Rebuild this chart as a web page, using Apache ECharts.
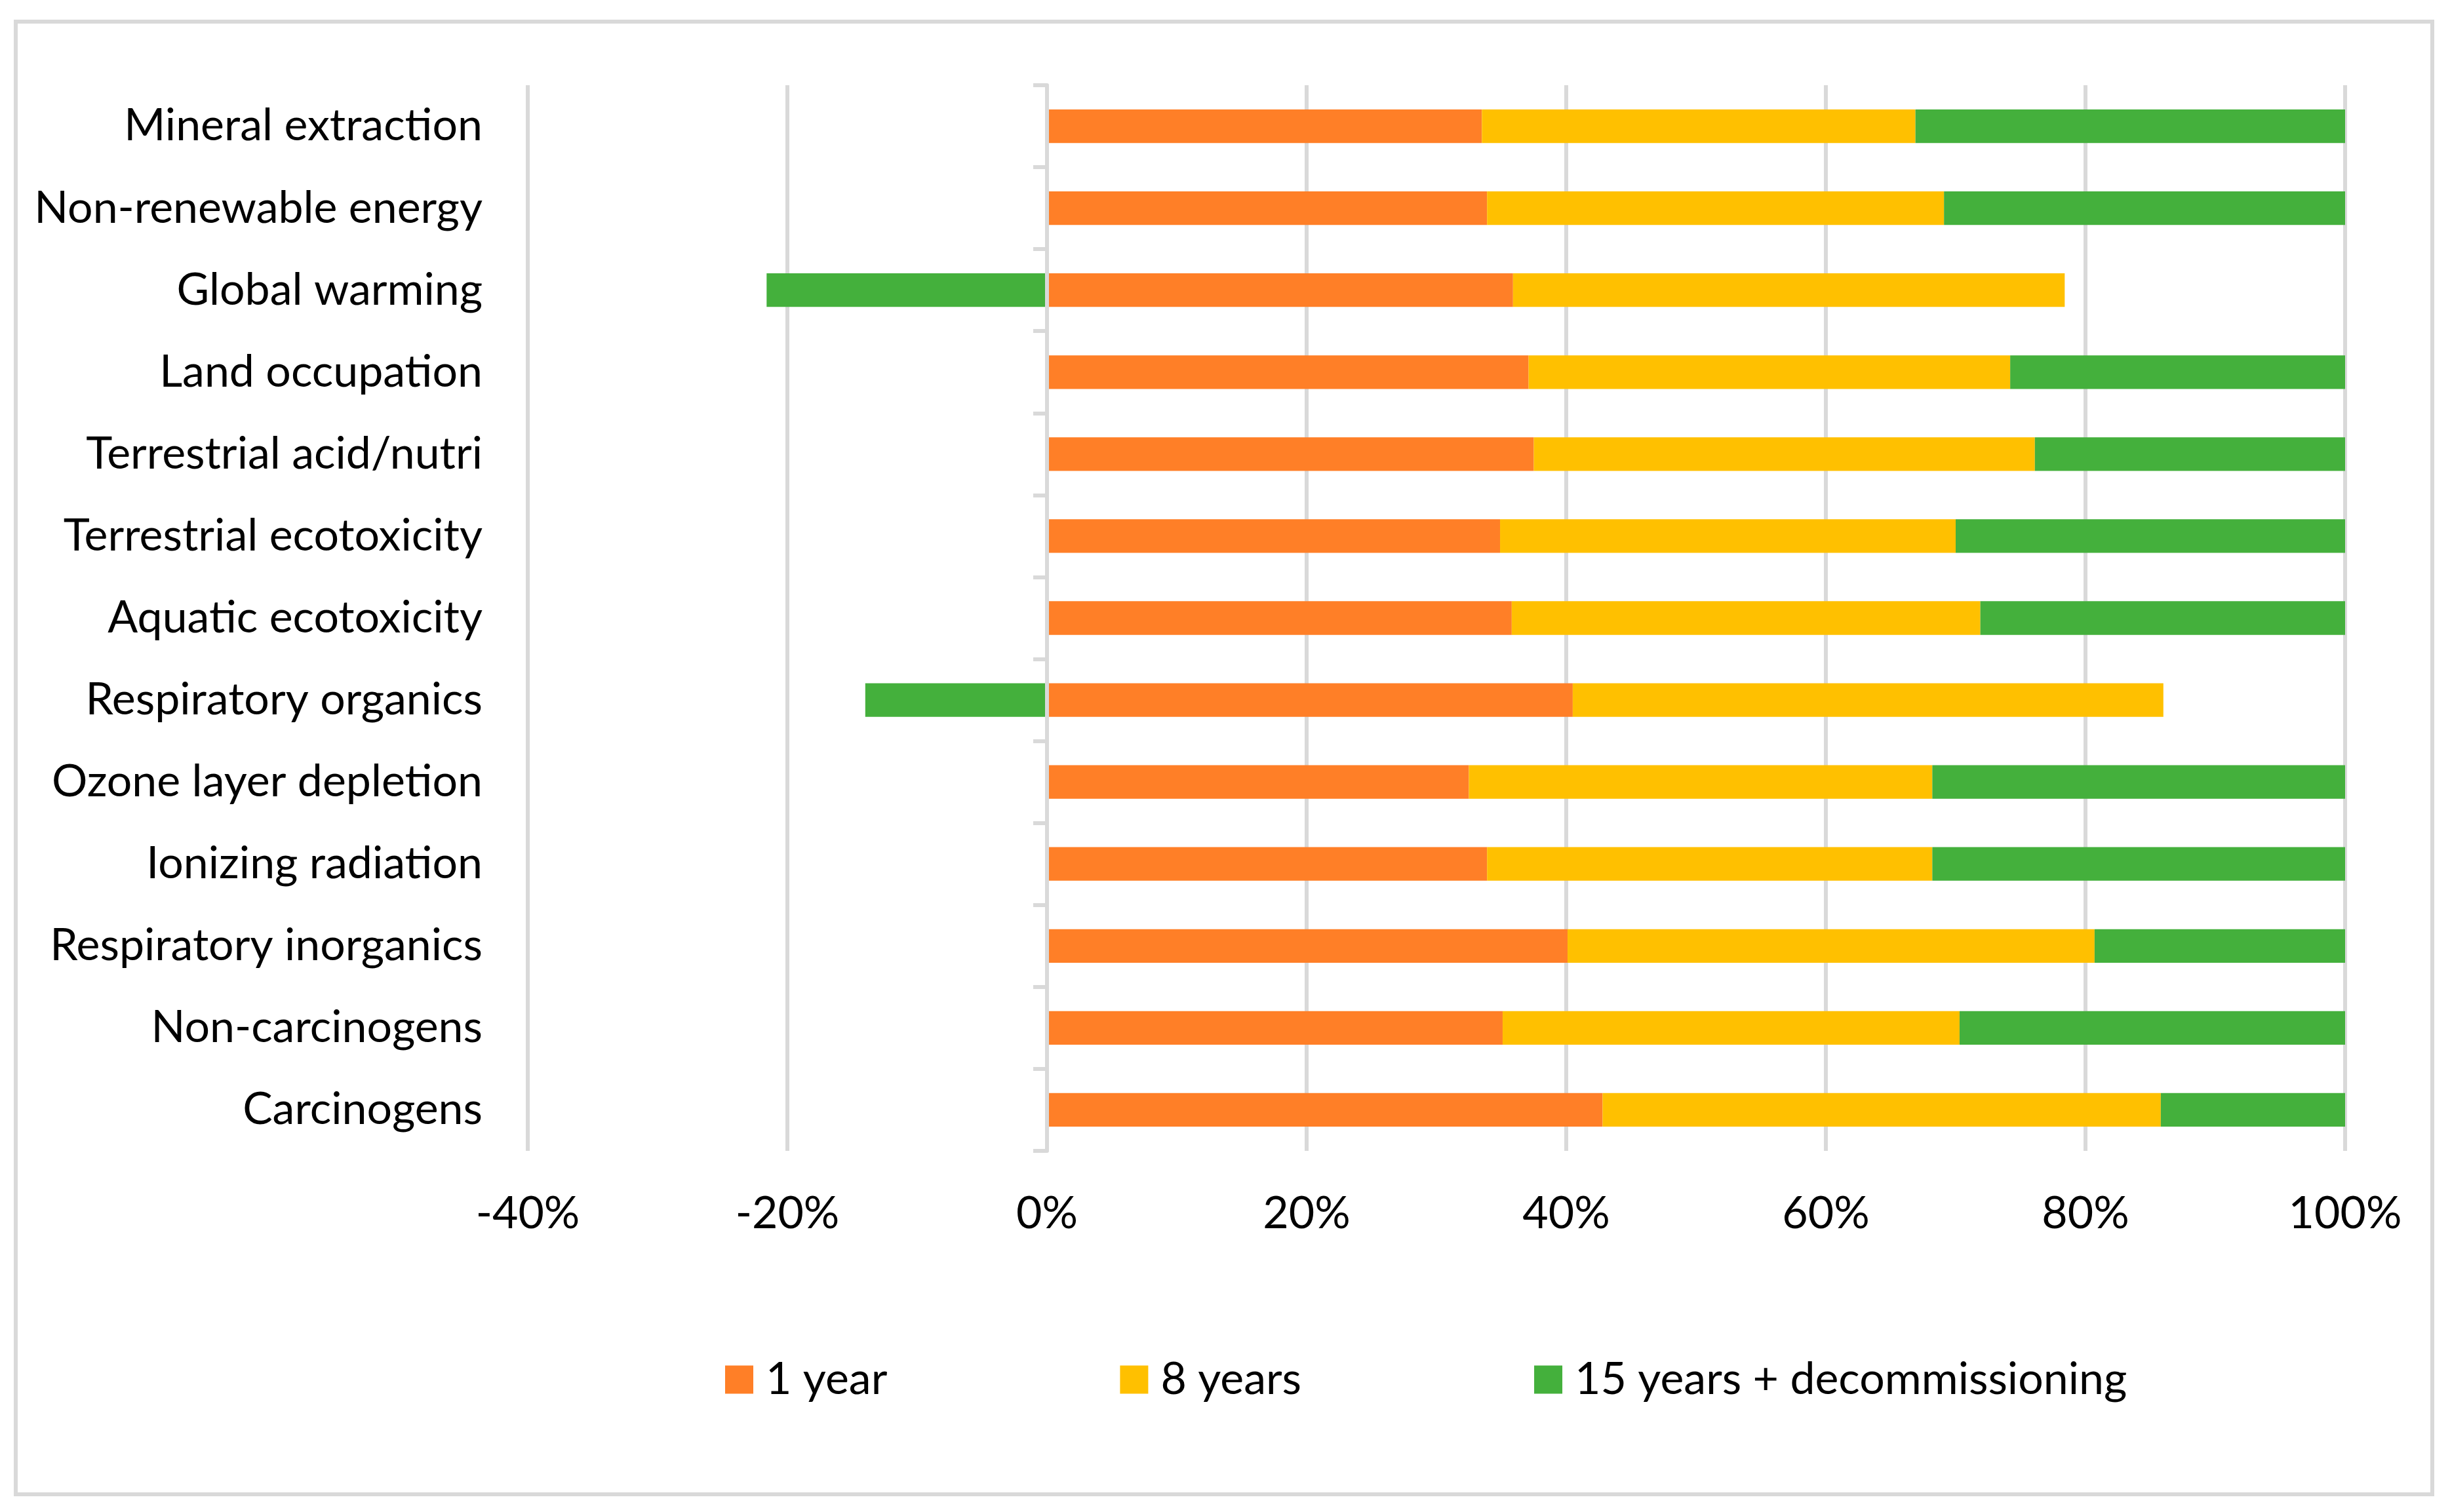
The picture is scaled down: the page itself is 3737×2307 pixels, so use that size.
<!DOCTYPE html>
<html>
<head>
<meta charset="utf-8">
<script src="https://cdn.jsdelivr.net/npm/echarts@6/dist/echarts.min.js"></script>
<style>
html,body{margin:0;padding:0;background:#fff;}
#c{width:3737px;height:2307px;}
</style>
</head>
<body>
<div id="c"></div>
<script>
const categories = ["Mineral extraction","Non-renewable energy","Global warming","Land occupation","Terrestrial acid/nutri","Terrestrial ecotoxicity","Aquatic ecotoxicity","Respiratory organics","Ozone layer depletion","Ionizing radiation","Respiratory inorganics","Non-carcinogens","Carcinogens"];
const seriesNames = ["1 year","8 years","15 years + decommissioning"];
const year1 = [33.5, 33.9, 35.9, 37.1, 37.5, 34.9, 35.8, 40.5, 32.5, 33.9, 40.1, 35.1, 42.8];
const year8 = [33.4, 35.2, 42.5, 37.1, 38.6, 35.1, 36.1, 45.5, 35.7, 34.3, 40.6, 35.2, 43.0];
const year15 = [33.1, 30.9, -21.6, 25.8, 23.9, 30.0, 28.1, -14.0, 31.8, 31.8, 19.3, 29.7, 14.2];
const colors = ["#FF7F27","#FFC000","#44B03C"];

const FONT = "Lato";
const FS = 68;
const chart = echarts.init(document.getElementById('c'));
const mk = (name, data, color) => ({
  name, type: 'bar', stack: 'total', stackStrategy: 'samesign',
  data, barWidth: '41%', itemStyle: {color}, emphasis: {disabled: true}
});
chart.setOption({
  animation: false,
  textStyle: {fontFamily: FONT},
  graphic: [{type: 'rect', shape: {x: 24, y: 33, width: 3686, height: 2247},
    style: {fill: 'none', stroke: '#d9d9d9', lineWidth: 6}, silent: true, z: -1}],
  grid: {left: 805, top: 130, width: 2772, height: 1626, containLabel: false},
  legend: {
    left: 1101, top: 2058, itemWidth: 43, itemHeight: 43, itemGap: 355,
    icon: 'rect',
    textStyle: {fontFamily: FONT, fontSize: FS, color: '#000', lineHeight: 84, padding: [0,0,0,14]},
    data: seriesNames
  },
  xAxis: {
    type: 'value', min: -40, max: 100, interval: 20,
    axisLine: {show: false}, axisTick: {show: false},
    splitLine: {show: true, lineStyle: {color: '#d9d9d9', width: 6}},
    axisLabel: {formatter: '{value}%', fontFamily: FONT, fontSize: FS, color: '#000', margin: 62}
  },
  yAxis: [
    {
      type: 'category', data: categories, inverse: true, position: 'left',
      axisLine: {show: false, onZero: false}, axisTick: {show: false},
      splitLine: {show: false},
      axisLabel: {fontFamily: FONT, fontSize: FS, color: '#000', margin: 69}
    },
    {
      type: 'category', data: categories, inverse: true, position: 'left', z: 10,
      axisLine: {show: true, onZero: true, lineStyle: {color: '#d9d9d9', width: 6}},
      axisTick: {show: true, length: 21, lineStyle: {color: '#d9d9d9', width: 6}},
      axisLabel: {show: false}, splitLine: {show: false}
    }
  ],
  series: [
    mk(seriesNames[0], year1, colors[0]),
    mk(seriesNames[1], year8, colors[1]),
    mk(seriesNames[2], year15, colors[2])
  ]
});
</script>
</body>
</html>
